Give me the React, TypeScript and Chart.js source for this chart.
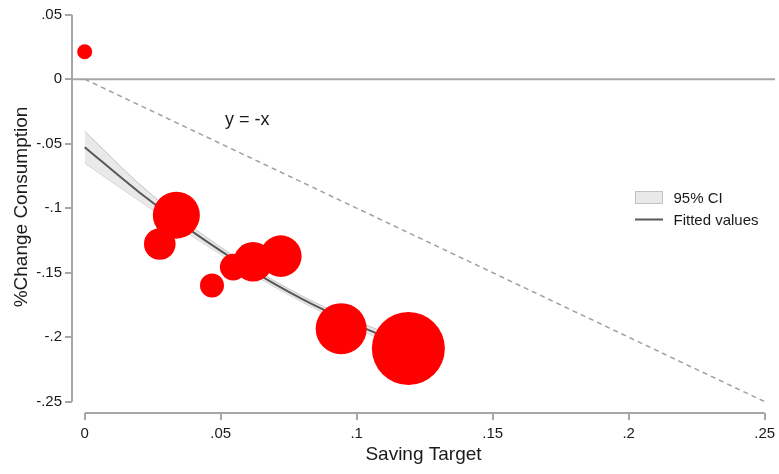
import React, { useEffect, useRef } from "react";
import { Chart, registerables } from "chart.js";

Chart.register(...registerables);

// Observations: saving target vs. % change in consumption, bubble size = weight
const savingTarget = [0, 0.0276, 0.0337, 0.0468, 0.0546, 0.0619, 0.0721, 0.0943, 0.119];
const consumptionChange = [0.0213, -0.1278, -0.1054, -0.16, -0.1457, -0.1416, -0.1372, -0.1934, -0.2088];
const bubbleRadius = [7.5, 15.8, 23.5, 12, 13.3, 19.7, 20.8, 25.5, 36.5];

// Fitted values with 95% confidence band
const fitX = [0, 0.02, 0.04, 0.06, 0.08, 0.1, 0.119];
const fitY = [-0.0527, -0.0876, -0.1188, -0.1465, -0.1705, -0.1905, -0.207];
const ciUpper = [-0.0404, -0.0811, -0.1153, -0.144, -0.1682, -0.1877, -0.203];
const ciLower = [-0.065, -0.0941, -0.1223, -0.149, -0.1728, -0.1933, -0.211];

// Reference line y = -x
const refX = [0, 0.25];
const refY = [0, -0.25];
const refLabel = "y = -x";
const refLabelX = 0.0516;
const refLabelY = -0.0354;

const xTicks = [0, 0.05, 0.1, 0.15, 0.2, 0.25];
const xTickLabels = ["0", ".05", ".1", ".15", ".2", ".25"];
const yTicks = [-0.25, -0.2, -0.15, -0.1, -0.05, 0, 0.05];
const yTickLabels = ["-.25", "-.2", "-.15", "-.1", "-.05", "0", ".05"];

const legendLabels = ["95% CI", "Fitted values"];

const FONT = '"Liberation Sans", Arial, Helvetica, sans-serif';
const AXIS_GRAY = "#a6a6a6";
const TEXT = "#1a1a1a";

const framePlugin = {
  id: "frame",
  beforeDatasetsDraw(chart: any) {
    const { ctx, chartArea, scales } = chart;
    const xs = scales.x;
    const ys = scales.y;
    ctx.save();
    ctx.strokeStyle = AXIS_GRAY;
    ctx.lineWidth = 2;
    // zero line across the plot
    const y0 = ys.getPixelForValue(0);
    ctx.beginPath();
    ctx.moveTo(chartArea.left, y0);
    ctx.lineTo(chartArea.right, y0);
    ctx.stroke();
    // y axis line over the tick range
    ctx.beginPath();
    ctx.moveTo(chartArea.left, ys.getPixelForValue(yTicks[yTicks.length - 1]));
    ctx.lineTo(chartArea.left, ys.getPixelForValue(yTicks[0]));
    ctx.stroke();
    // x axis line over the tick range
    ctx.beginPath();
    ctx.moveTo(xs.getPixelForValue(xTicks[0]), chartArea.bottom);
    ctx.lineTo(xs.getPixelForValue(xTicks[xTicks.length - 1]), chartArea.bottom);
    ctx.stroke();
    ctx.restore();
  },
  afterDraw(chart: any) {
    const { ctx, scales } = chart;
    ctx.save();
    // y = -x label
    ctx.fillStyle = TEXT;
    ctx.font = `18px ${FONT}`;
    ctx.textAlign = "left";
    ctx.textBaseline = "alphabetic";
    ctx.fillText(refLabel, scales.x.getPixelForValue(refLabelX), scales.y.getPixelForValue(refLabelY));

    // legend
    ctx.fillStyle = "#e9e9e9";
    ctx.fillRect(635, 191, 28, 12);
    ctx.strokeStyle = "#c2c2c2";
    ctx.lineWidth = 1;
    ctx.strokeRect(635.5, 191.5, 27, 12);
    ctx.strokeStyle = "#585858";
    ctx.lineWidth = 2;
    ctx.beginPath();
    ctx.moveTo(635, 219.5);
    ctx.lineTo(663, 219.5);
    ctx.stroke();
    ctx.fillStyle = TEXT;
    ctx.font = `15px ${FONT}`;
    ctx.fillText(legendLabels[0], 673.5, 202.5);
    ctx.fillText(legendLabels[1], 673.5, 225);
    ctx.restore();
  },
};

export default function App() {
  const canvasRef = useRef<HTMLCanvasElement | null>(null);

  useEffect(() => {
    const canvas = canvasRef.current;
    if (!canvas) return;

    const chart = new Chart(canvas, {
      type: "bubble",
      data: {
        datasets: [
          {
            type: "bubble",
            label: "obs",
            data: savingTarget.map((x, i) => ({ x, y: consumptionChange[i], r: bubbleRadius[i] })),
            backgroundColor: "#ff0000",
            borderWidth: 0,
            order: 0,
          } as any,
          {
            type: "line",
            label: "Fitted values",
            data: fitX.map((x, i) => ({ x, y: fitY[i] })),
            borderColor: "#585858",
            borderWidth: 2,
            pointRadius: 0,
            fill: false,
            cubicInterpolationMode: "monotone",
            order: 1,
          } as any,
          {
            type: "line",
            label: "ci-upper",
            data: fitX.map((x, i) => ({ x, y: ciUpper[i] })),
            borderColor: "#c2c2c2",
            borderWidth: 1,
            backgroundColor: "#e9e9e9",
            pointRadius: 0,
            fill: "+1",
            cubicInterpolationMode: "monotone",
            order: 2,
          } as any,
          {
            type: "line",
            label: "ci-lower",
            data: fitX.map((x, i) => ({ x, y: ciLower[i] })),
            borderColor: "#c2c2c2",
            borderWidth: 1,
            pointRadius: 0,
            fill: false,
            cubicInterpolationMode: "monotone",
            order: 2,
          } as any,
          {
            type: "line",
            label: "y = -x",
            data: refX.map((x, i) => ({ x, y: refY[i] })),
            borderColor: "#a0a0a0",
            borderWidth: 1.5,
            borderDash: [5, 4],
            pointRadius: 0,
            fill: false,
            order: 3,
          } as any,
        ],
      },
      options: {
        animation: false,
        responsive: false,
        devicePixelRatio: 1,
        events: [],
        clip: false as any,
        layout: { autoPadding: false, padding: { top: 1, right: 4, left: 0, bottom: 0 } },
        plugins: {
          legend: { display: false },
          tooltip: { enabled: false },
        },
        scales: {
          x: {
            type: "linear",
            min: -0.00467,
            max: 0.2538,
            afterBuildTicks(scale: any) {
              scale.ticks = xTicks.map((v) => ({ value: v }));
            },
            afterFit(scale: any) {
              scale.height = 61;
              scale.paddingLeft = 0;
              scale.paddingRight = 0;
            },
            border: { display: false },
            grid: {
              drawOnChartArea: false,
              drawTicks: true,
              tickLength: 7,
              color: AXIS_GRAY,
              lineWidth: 2,
            },
            ticks: {
              padding: 5,
              color: TEXT,
              font: { family: FONT, size: 15 },
              maxRotation: 0,
              autoSkip: false,
              callback: (_v: any, i: number) => xTickLabels[i],
            },
            title: {
              display: true,
              text: "Saving Target",
              color: TEXT,
              font: { family: FONT, size: 19 },
              padding: { top: 7.7, bottom: 7.7 },
            },
          },
          y: {
            type: "linear",
            min: -0.2588,
            max: 0.0606,
            afterBuildTicks(scale: any) {
              scale.ticks = yTicks.map((v) => ({ value: v }));
            },
            afterFit(scale: any) {
              scale.width = 72;
              scale.paddingTop = 0;
              scale.paddingBottom = 0;
            },
            border: { display: false },
            grid: {
              drawOnChartArea: false,
              drawTicks: true,
              tickLength: 7,
              color: AXIS_GRAY,
              lineWidth: 2,
            },
            ticks: {
              padding: 3,
              color: TEXT,
              font: { family: FONT, size: 15 },
              autoSkip: false,
              callback: (_v: any, i: number) => yTickLabels[i],
            },
            title: {
              display: true,
              text: "%Change Consumption",
              color: TEXT,
              font: { family: FONT, size: 19 },
              padding: { top: 10.5, bottom: 10.5 },
            },
          },
        },
      },
      plugins: [framePlugin],
    });

    return () => {
      chart.destroy();
    };
  }, []);

  return (
    <div style={{ position: "fixed", left: 0, top: 0, width: 779, height: 474, background: "#fff" }}>
      <canvas ref={canvasRef} width={779} height={474} style={{ display: "block" }} />
    </div>
  );
}
